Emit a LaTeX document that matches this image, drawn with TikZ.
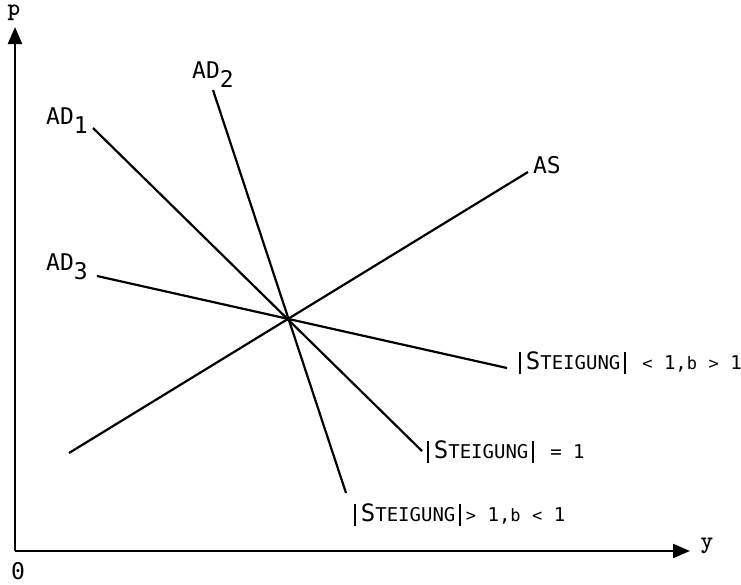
\documentclass[tikz,border=0pt]{standalone}
\usepackage{fontspec}
\newfontfamily\lgfont{DejaVu Sans Mono}
\usetikzlibrary{arrows.meta}
\newcommand{\vbar}{\hspace{2pt}\rule[-0.25em]{0.75pt}{1.2em}\hspace{2.5pt}}
\newcommand{\steigung}{\vbar{\fontsize{12}{12}\selectfont S}TEIGUNG\vbar}
\newcommand{\lsub}[1]{\raisebox{-0.7ex}{#1}}
\newcommand{\rel}[1]{{\fontsize{8.5}{9}\selectfont #1}}

\begin{document}
\begin{tikzpicture}[x=0.5pt, y=-0.5pt,
	lbl/.style={font=\lgfont\fontsize{11.5}{13}\selectfont, inner sep=0pt},
	ax/.style={font=\ttfamily\bfseries\fontsize{12}{13}\selectfont, inner sep=0pt},
	rmk/.style={font=\lgfont\fontsize{9.5}{12}\selectfont, inner sep=0pt, anchor=west},
	curve/.style={line width=1.1pt},
	axis/.style={line width=1.1pt, -{Triangle[length=8.5pt,width=7pt]}}]
\useasboundingbox (0,0) rectangle (741,585);

% axes
\coordinate (o) at (15,551);
\coordinate (ptip) at (15,27);
\coordinate (ytip) at (690,551);
\draw[axis] (o) -- (ptip);
\draw[axis] (o) -- (ytip);
\node[ax] (p) at (14,13) {p};
\node[ax] (yl) at (707,546) {y};
\node[lbl] (zero) at (18,571) {0};

% demand and supply lines
\coordinate (ad1a) at (93,128);
\coordinate (ad1b) at (422,451);
\coordinate (ad2a) at (213,90);
\coordinate (ad2b) at (346,493);
\coordinate (ad3a) at (97,276);
\coordinate (ad3b) at (507,368);
\coordinate (asa) at (69,453);
\coordinate (asb) at (528,172);
\draw[curve] (ad1a) -- (ad1b);
\draw[curve] (ad2a) -- (ad2b);
\draw[curve] (ad3a) -- (ad3b);
\draw[curve] (asa) -- (asb);

\node[lbl] (ad1) at (67,121) {AD\lsub{1}};
\node[lbl] (ad2) at (213,75) {AD\lsub{2}};
\node[lbl] (ad3) at (67,267) {AD\lsub{3}};
\node[lbl] (as) at (547,165) {AS};

\node[rmk] (s1) at (423,452) {\steigung\ = 1};
\node[rmk] (s2) at (350,515) {\steigung\rel{>} 1,\rel{b} \rel{<} 1};
\node[rmk] (s3) at (515,363) {\steigung\ \rel{<} 1,\rel{b} \rel{>} 1};
\end{tikzpicture}
\end{document}
